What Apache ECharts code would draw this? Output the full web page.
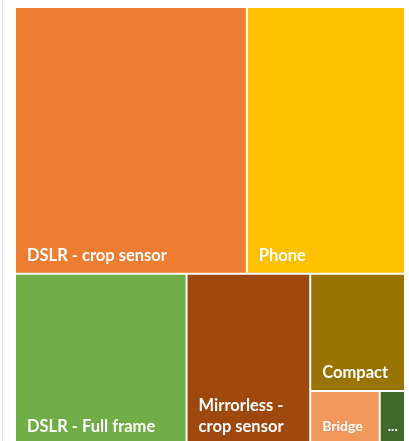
<!DOCTYPE html>
<html>
<head>
<meta charset="utf-8">
<script src="https://cdn.jsdelivr.net/npm/echarts@6/dist/echarts.min.js"></script>
<style>
html,body{margin:0;padding:0;background:#fff;}
#chart{width:409px;height:441px;}
</style>
</head>
<body>
<div id="chart"></div>
<script>
// Data (relative shares)
const categories = ['DSLR - crop sensor', 'Phone', 'DSLR - Full frame', 'Mirrorless - crop sensor', 'Compact', 'Bridge', '...'];
const values = [36.2, 24.7, 17.2, 12.4, 6.5, 2.2, 0.8];
const colors = ['#ED7D31', '#FFC000', '#70AD47', '#9E480E', '#997300', '#F1975A', '#43682B'];
const labelSizes = [16.5, 16.5, 16.5, 16.5, 16.5, 14, 14];
const labelRightPad = [20, 20, 20, 20, 20, 2, 0];
const labelLeftPad = [4, 4, 4, 4, 4, 4, 0];

const chart = echarts.init(document.getElementById('chart'), null, {renderer: 'canvas'});
const data = categories.map((c, i) => ({
  name: c,
  value: values[i],
  itemStyle: {color: colors[i]},
  label: {fontSize: labelSizes[i], padding: [0, labelRightPad[i], 0, labelLeftPad[i]]}
}));

chart.setOption({
  animation: false,
  graphic: [{
    type: 'line',
    shape: {x1: 2.5, y1: 0, x2: 2.5, y2: 441},
    style: {stroke: '#e3e3e3', lineWidth: 1}
  }],
  series: [{
    type: 'treemap',
    left: 16,
    top: 8,
    width: 388,
    height: 436,
    roam: false,
    nodeClick: false,
    squareRatio: 1,
    breadcrumb: {show: false},
    sort: 'desc',
    levels: [{
      itemStyle: {borderWidth: 0, gapWidth: 2, borderColor: '#fff'}
    }],
    itemStyle: {borderWidth: 0, gapWidth: 2, borderColor: '#fff'},
    label: {
      show: true,
      position: 'insideBottomLeft',
      distance: 7,
      color: '#fff',
      fontFamily: 'Lato',
      fontWeight: 'bold',
      fontSize: 16.5,
      lineHeight: 21,
      overflow: 'break'
    },
    data: data
  }]
});
</script>
</body>
</html>
